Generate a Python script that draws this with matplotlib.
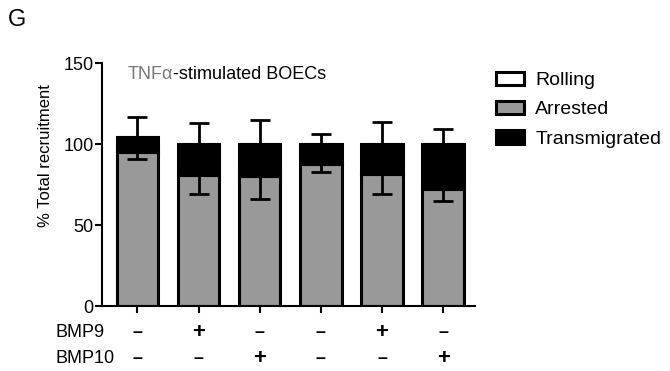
import matplotlib
matplotlib.use("Agg")
import matplotlib.pyplot as plt
import matplotlib.transforms as mtransforms
import numpy as np

plt.rcParams["font.family"] = ["Liberation Sans", "DejaVu Sans"]

# data
bmp9 = ["-", "+", "-", "-", "+", "-"]
bmp10 = ["-", "-", "+", "-", "-", "+"]
arrested = [95, 81, 80, 88, 81.5, 72]
transmigrated = [9.5, 19, 20, 12, 18.5, 28]
rolling = [0, 0, 0, 0, 0, 0]
arrested_err = [4.5, 12, 14, 5, 12.5, 7]
transmigrated_err = [12.5, 13, 15, 6, 13.5, 9]

x = np.arange(len(arrested))
arr = np.array(arrested)
trans = np.array(transmigrated)
roll = np.array(rolling)

fig = plt.figure(figsize=(6.7, 3.71), dpi=100)
ax = fig.add_axes([0.152, 0.175, 0.557, 0.655])

w = 0.68
lw = 2.2
ax.bar(x, arr, w, color="#999999", edgecolor="black", linewidth=lw, label="Arrested", zorder=2)
ax.bar(x, trans, w, bottom=arr, color="black", edgecolor="black", linewidth=lw,
       label="Transmigrated", zorder=2)
ax.bar(x, roll, w, bottom=arr + trans, color="white", edgecolor="black", linewidth=lw,
       label="Rolling", zorder=2)

total = arr + trans + roll
ax.errorbar(x, arr, yerr=[arrested_err, np.zeros(len(x))], fmt="none", ecolor="black",
            elinewidth=2, capsize=7.5, capthick=2, zorder=3)
ax.errorbar(x, total, yerr=[np.zeros(len(x)), transmigrated_err], fmt="none", ecolor="black",
            elinewidth=2, capsize=7.5, capthick=2, zorder=3)

ax.set_xlim(-0.58, 5.52)
ax.set_ylim(0, 150)
ax.set_yticks([0, 50, 100, 150])
ax.set_xticks(x)
ax.set_xticklabels([])
ax.tick_params(axis="both", width=1.5, length=5, labelsize=13)
ax.tick_params(axis="y", pad=1)
for s in ["top", "right"]:
    ax.spines[s].set_visible(False)
for s in ["left", "bottom"]:
    ax.spines[s].set_linewidth(1.5)
ax.set_ylabel("% Total recruitment", fontsize=12)
ax.yaxis.set_label_coords(-0.13, 0.62)

# title with grey TNFα
t1 = ax.text(0.07, 0.99, "TNF\u03b1", transform=ax.transAxes, fontsize=13, color="#777777",
             va="top", ha="left")
ax.annotate("-stimulated BOECs", xy=(1, 0), xycoords=t1, fontsize=13, color="black",
            va="bottom", ha="left")

# treatment table below the axis
trans_xa = mtransforms.blended_transform_factory(ax.transData, fig.transFigure)
fig.text(0.083, 0.105, "BMP9", fontsize=13, va="center", ha="left")
fig.text(0.083, 0.035, "BMP10", fontsize=13, va="center", ha="left")
for xi, a, b in zip(x, bmp9, bmp10):
    for yy, s in [(0.105, a), (0.035, b)]:
        if s == "-":
            ax.text(xi, yy, "\u2013", transform=trans_xa, fontsize=13, fontweight="bold",
                    ha="center", va="center")
        else:
            ax.text(xi, yy, "+", transform=trans_xa, fontsize=16, fontweight="bold",
                    ha="center", va="center")

handles, labels = ax.get_legend_handles_labels()
order = [2, 0, 1]
fig.legend([handles[i] for i in order], [labels[i] for i in order],
           loc="upper left", bbox_to_anchor=(0.728, 0.828), frameon=False, fontsize=14,
           handlelength=1.45, handleheight=0.7, labelspacing=0.6, handletextpad=0.6,
           borderaxespad=0)

fig.text(0.012, 0.975, "G", fontsize=17, va="top", ha="left")

fig.savefig("out.png", dpi=100)
